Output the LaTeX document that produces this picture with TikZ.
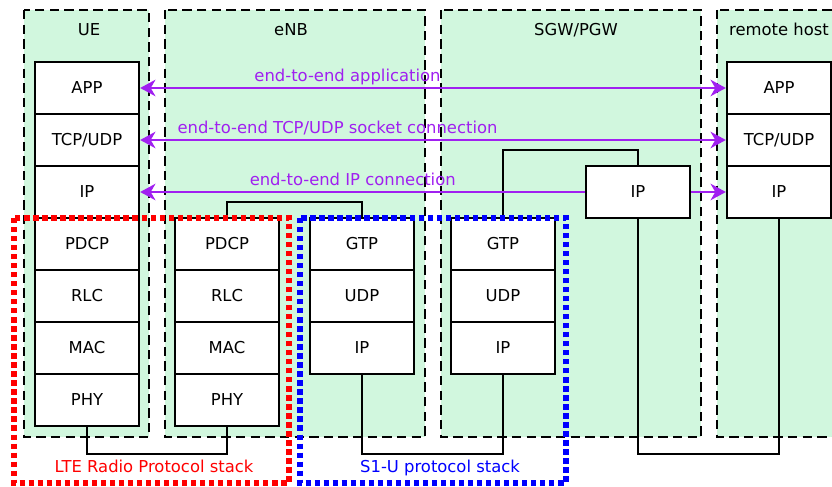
\documentclass[tikz,border=0pt]{standalone}
\usepackage{fontspec}
\setmainfont{DejaVu Sans}
\usepackage{tikz}
\usetikzlibrary{arrows.meta}
\definecolor{mint}{RGB}{209, 247, 222}
\definecolor{linkviolet}{RGB}{160, 32, 240}

\begin{document}
\begin{tikzpicture}[x=0.03cm, y=-0.03cm, thick,
    font=\fontsize{14}{17}\selectfont,
    region/.style={fill=mint, draw=black, line width=2.5pt, dash pattern=on 8pt off 4.5pt},
    layer/.style={draw, fill=white, line width=2pt, minimum width=3.12cm,
      minimum height=1.56cm, inner sep=0pt, text height=10.2pt, text depth=0pt},
    wire/.style={line width=2pt},
    e2e/.style={line width=2pt, linkviolet},
    e2elabel/.style={above, inner sep=1.2pt, text depth=3pt, text=linkviolet},
    groupbox/.style={line width=4.8pt, dash pattern=on 4.5pt off 3.2pt},
    >={Stealth[length=13pt, width=14pt, inset=4pt]}]

  \clip (0, 0) rectangle (832, 487);

  % network elements
  \draw[region] (24, 10) rectangle (149, 437);
  \draw[region] (165, 10) rectangle (425, 437);
  \draw[region] (441, 10) rectangle (701, 437);
  \draw[region] (717, 10) rectangle (860, 437);
  \node[anchor=base] (ue) at (89, 36) {UE};
  \node[anchor=base] (enb) at (291, 36) {eNB};
  \node[anchor=base] (gw) at (576, 36) {SGW/PGW};
  \node[anchor=base] (host) at (779, 36) {remote host};

  % protocol stacks
  \foreach \lab [count=\i] in {APP, TCP/UDP, IP, PDCP, RLC, MAC, PHY}
    \node[layer] (ue\i) at (87, {36 + 52 * \i}) {\lab};
  \foreach \lab [count=\i] in {PDCP, RLC, MAC, PHY}
    \node[layer] (enbl\i) at (227, {192 + 52 * \i}) {\lab};
  \foreach \lab [count=\i] in {GTP, UDP, IP}
    \node[layer] (enbr\i) at (362, {192 + 52 * \i}) {\lab};
  \foreach \lab [count=\i] in {GTP, UDP, IP}
    \node[layer] (gw\i) at (503, {192 + 52 * \i}) {\lab};
  \node[layer] (gwip) at (638, 192) {IP};
  \foreach \lab [count=\i] in {APP, TCP/UDP, IP}
    \node[layer] (host\i) at (779, {36 + 52 * \i}) {\lab};

  % links between layers
  \draw[wire] (enbl1.north) -- ++(0, -15) -| (enbr1.north);
  \draw[wire] (gw1.north) -- ++(0, -67) -| (gwip.north);
  \draw[wire] (ue7.south) -- ++(0, 27) -| (enbl4.south);
  \draw[wire] (enbr3.south) -- ++(0, 79) -| (gw3.south);
  \draw[wire] (gwip.south) -- ++(0, 235) -| (host3.south);

  % end-to-end connections
  \draw[e2e, <->] (ue1.east) -- node[e2elabel, pos=0.354] {end-to-end application} (host1.west);
  \draw[e2e, <->] (ue2.east) -- node[e2elabel, pos=0.337] {end-to-end TCP/UDP socket connection} (host2.west);
  \draw[e2e, <-] (ue3.east) -- node[e2elabel, pos=0.478] {end-to-end IP connection} (gwip.west);
  \draw[e2e, ->] (gwip.east) -- (host3.west);

  % stack groups
  \draw[groupbox, red] (14, 218) rectangle (289, 483);
  \draw[groupbox, blue] (300, 218) rectangle (566, 483);
  \node[anchor=base, text=red] (lte) at (154, 473) {LTE Radio Protocol stack};
  \node[anchor=base, text=blue] (s1u) at (440, 473) {S1-U protocol stack};
\end{tikzpicture}
\end{document}
